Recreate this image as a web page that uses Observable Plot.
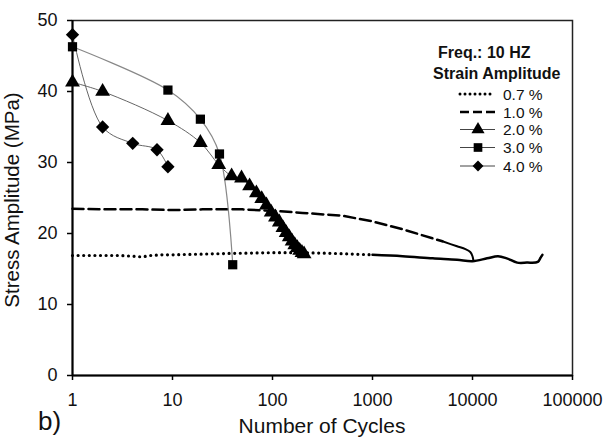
<!DOCTYPE html>
<html><head><meta charset="utf-8">
<script src="https://cdn.jsdelivr.net/npm/d3@7"></script>
<script src="https://cdn.jsdelivr.net/npm/@observablehq/plot@0.6"></script>
<style>
body{margin:0;background:#fff}
#chart{position:relative;width:607px;height:438px}
svg{font-family:"Liberation Sans",Arial,sans-serif}
</style>
</head><body><div id="chart"></div>
<script>
const xTicks = [1, 10, 100, 1000, 10000, 100000];
const yTicks = [0, 10, 20, 30, 40, 50];
const seriesNames = ["0.7 %", "1.0 %", "2.0 %", "3.0 %", "4.0 %"];

// 0.7 % strain amplitude
const s07N = [1, 2, 3, 4, 5, 6, 8, 10, 20, 40, 100, 200, 400, 1000, 2000, 4000, 7000, 10000, 14000, 18000, 22000, 28000, 35000, 45000, 48000, 50000];
const s07S = [16.9, 16.9, 16.9, 16.8, 16.7, 16.9, 17.0, 17.0, 17.1, 17.2, 17.3, 17.3, 17.2, 17.0, 16.8, 16.5, 16.3, 16.1, 16.5, 16.8, 16.5, 15.9, 15.9, 16.0, 16.6, 17.0];
// 1.0 % strain amplitude
const s10N = [1, 2, 5, 10, 20, 50, 100, 200, 500, 1000, 2000, 5000, 7000, 8500, 9500, 10000, 10200];
const s10S = [23.5, 23.4, 23.4, 23.3, 23.4, 23.4, 23.2, 22.9, 22.5, 21.7, 20.6, 18.9, 18.2, 17.8, 17.4, 16.8, 16.2];
// 2.0 % strain amplitude
const s20N = [1, 2, 9, 19, 29, 39, 49, 59, 69, 78, 87, 97, 107, 117, 127, 137, 147, 157, 167, 177, 187, 197, 207];
const s20S = [41.3, 40.0, 35.9, 32.8, 29.7, 28.1, 27.8, 26.7, 25.7, 24.9, 24.0, 23.0, 22.3, 21.6, 20.8, 20.1, 19.5, 18.9, 18.4, 18.0, 17.6, 17.3, 17.1];
// 3.0 % strain amplitude
const s30N = [1, 9, 19, 29.5, 40];
const s30S = [46.3, 40.2, 36.1, 31.2, 15.6];
// 4.0 % strain amplitude
const s40N = [1, 2, 4, 7, 9];
const s40S = [48.0, 35.0, 32.7, 31.8, 29.4];

const toRows = (N, S) => N.map((n, i) => ({n, s: S[i]}));
const d07 = toRows(s07N, s07S), d10 = toRows(s10N, s10S), d20 = toRows(s20N, s20S), d30 = toRows(s30N, s30S), d40 = toRows(s40N, s40S);

const plot = Plot.plot({
  width: 607, height: 438,
  marginLeft: 72, marginRight: 35, marginTop: 20, marginBottom: 63,
  style: {fontSize: "18px", fontFamily: "Liberation Sans, Arial, sans-serif", background: "#fff", color: "#000"},
  x: {type: "log", domain: [1, 100000]},
  y: {domain: [0, 50]},
  marks: [
    Plot.frame({stroke: "#222", strokeWidth: 1.5}),
    Plot.axisX({ticks: xTicks, tickFormat: d3.format("d"), tickSize: 5, tickPadding: 13, label: null, strokeWidth: 1.5, fill: "#111"}),
    Plot.axisY({ticks: yTicks, tickSize: 5, tickPadding: 10, label: null, strokeWidth: 1.5, fill: "#111"}),
    // 0.7 %
    Plot.line(d07.filter(d => d.n <= 1000), {x: "n", y: "s", stroke: "#000", strokeWidth: 3.2, strokeDasharray: "0,5.6", strokeLinecap: "round"}),
    Plot.line(d07.filter(d => d.n >= 1000), {x: "n", y: "s", stroke: "#000", strokeWidth: 2.5, curve: "catmull-rom"}),
    // 1.0 %
    Plot.line(d10.filter(d => d.n <= 5000), {x: "n", y: "s", stroke: "#000", strokeWidth: 2.5, strokeDasharray: "11,5"}),
    Plot.line(d10.filter(d => d.n >= 5000), {x: "n", y: "s", stroke: "#000", strokeWidth: 2, curve: "catmull-rom"}),
    // 2.0 %, 3.0 %, 4.0 %
    Plot.line(d20, {x: "n", y: "s", stroke: "#666", strokeWidth: 1, curve: "catmull-rom"}),
    Plot.line(d30, {x: "n", y: "s", stroke: "#888", strokeWidth: 1.2, curve: "catmull-rom"}),
    Plot.line(d40, {x: "n", y: "s", stroke: "#666", strokeWidth: 1, curve: "catmull-rom"}),
    Plot.dot(d20, {x: "n", y: "s", symbol: "triangle", r: 5.5, fill: "#000", stroke: "none"}),
    Plot.dot(d30, {x: "n", y: "s", symbol: "square", r: 5.2, fill: "#000", stroke: "none"}),
    Plot.dot(d40, {x: "n", y: "s", symbol: "diamond2", r: 6, fill: "#000", stroke: "none"}),
    Plot.ruleX([1], {stroke: "#000", strokeWidth: 2}),
    Plot.ruleY([0], {stroke: "#000", strokeWidth: 2})
  ]
});
document.getElementById("chart").appendChild(plot);

const svg = d3.select(plot);
// axis titles and panel letter
svg.append("text").attr("x", 322).attr("y", 433).attr("text-anchor", "middle").attr("font-size", 21).attr("fill", "#111").text("Number of Cycles");
svg.append("text").attr("transform", "translate(19,200) rotate(-90)").attr("text-anchor", "middle").attr("font-size", 20.5).attr("fill", "#111").text("Stress Amplitude (MPa)");
svg.append("text").attr("x", 38).attr("y", 430).attr("text-anchor", "start").attr("font-size", 26).attr("fill", "#111").text("b)");

// legend
const lg = svg.append("g").attr("font-family", "Liberation Sans, Arial, sans-serif").attr("text-anchor", "start").attr("fill", "#111");
lg.append("text").attr("x", 438).attr("y", 58).attr("font-size", 16).attr("font-weight", "bold").text("Freq.: 10 HZ");
lg.append("text").attr("x", 433).attr("y", 79).attr("font-size", 16).attr("font-weight", "bold").text("Strain Amplitude");
const rowY = [94, 112, 129.5, 147.5, 166];
const sym = [null, null, d3.symbolTriangle, d3.symbolSquare, d3.symbolDiamond2];
seriesNames.forEach((name, i) => {
  const y = rowY[i];
  const line = lg.append("line").attr("x1", 460).attr("x2", 495).attr("y1", y).attr("y2", y).attr("stroke", "#000");
  if (i === 0) line.attr("stroke-width", 3).attr("stroke-dasharray", "0,5").attr("stroke-linecap", "round");
  else if (i === 1) line.attr("stroke-width", 2.5).attr("stroke-dasharray", "9,4");
  else {
    line.attr("stroke-width", 1).attr("stroke", "#444");
    lg.append("path").attr("d", d3.symbol(sym[i], 75)()).attr("transform", `translate(478,${y})`).attr("fill", "#000");
  }
  lg.append("text").attr("x", 503).attr("y", y + 5.5).attr("font-size", 15.5).text(name);
});
</script>
</body></html>
